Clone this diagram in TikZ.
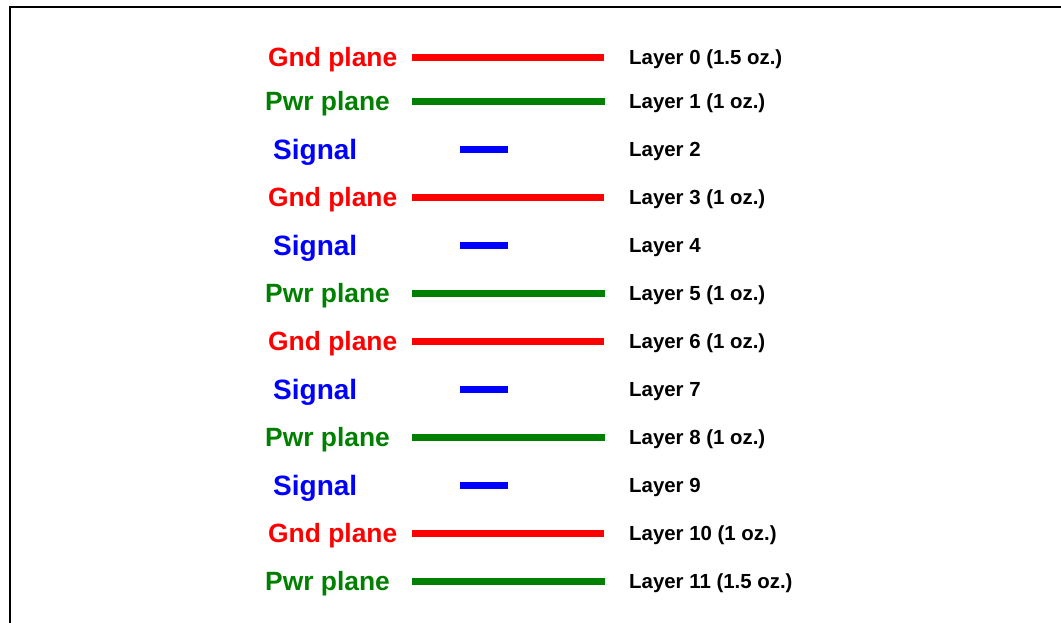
\documentclass[tikz,border=0pt]{standalone}
\usepackage{fontspec}
\setmainfont{Liberation Sans}
\begin{document}
\begin{tikzpicture}[x=1pt,y=-1pt,
  frame/.style={line width=2.4pt,black},
  gndtext/.style={text=red,font=\bfseries\fontsize{26.4}{30}\selectfont,anchor=base west,inner sep=0pt},
  pwrtext/.style={text=green!50!black,font=\bfseries\fontsize{26.4}{30}\selectfont,anchor=base west,inner sep=0pt},
  sigtext/.style={text=blue,font=\bfseries\fontsize{28}{32}\selectfont,anchor=base west,inner sep=0pt},
  layertext/.style={text=black,font=\bfseries\fontsize{20.4}{24}\selectfont,anchor=base west,inner sep=0pt},
  gndline/.style={line width=6.5pt,red},
  pwrline/.style={line width=6.5pt,green!50!black},
  sigline/.style={line width=6.5pt,blue}]
\useasboundingbox (0,0) rectangle (1061,623);
\clip (0,0) rectangle (1061,623);
% outer frame (left and top edges)
\draw[frame] (10,640) -- (10,7) -- (1070,7);

% layer 0
\node[gndtext] (t0) at (268,66.8) {Gnd plane};
\coordinate (a0) at (412,57.5); \coordinate (b0) at (604,57.5);
\draw[gndline] (a0) -- (b0);
\node[layertext] (l0) at (629,64.7) {Layer 0 (1.5 oz.)};
% layer 1
\node[pwrtext] (t1) at (265,110.8) {Pwr plane};
\coordinate (a1) at (412,101.5); \coordinate (b1) at (605,101.5);
\draw[pwrline] (a1) -- (b1);
\node[layertext] (l1) at (629,108.7) {Layer 1 (1 oz.)};
% layer 2
\node[sigtext] (t2) at (273,159.5) {Signal};
\coordinate (a2) at (460,149.5); \coordinate (b2) at (508,149.5);
\draw[sigline] (a2) -- (b2);
\node[layertext] (l2) at (629,156.7) {Layer 2};
% layer 3
\node[gndtext] (t3) at (268,206.8) {Gnd plane};
\coordinate (a3) at (412,197.5); \coordinate (b3) at (604,197.5);
\draw[gndline] (a3) -- (b3);
\node[layertext] (l3) at (629,204.7) {Layer 3 (1 oz.)};
% layer 4
\node[sigtext] (t4) at (273,255.5) {Signal};
\coordinate (a4) at (460,245.5); \coordinate (b4) at (508,245.5);
\draw[sigline] (a4) -- (b4);
\node[layertext] (l4) at (629,252.7) {Layer 4};
% layer 5
\node[pwrtext] (t5) at (265,302.8) {Pwr plane};
\coordinate (a5) at (412,293.5); \coordinate (b5) at (605,293.5);
\draw[pwrline] (a5) -- (b5);
\node[layertext] (l5) at (629,300.7) {Layer 5 (1 oz.)};
% layer 6
\node[gndtext] (t6) at (268,350.8) {Gnd plane};
\coordinate (a6) at (412,341.5); \coordinate (b6) at (604,341.5);
\draw[gndline] (a6) -- (b6);
\node[layertext] (l6) at (629,348.7) {Layer 6 (1 oz.)};
% layer 7
\node[sigtext] (t7) at (273,399.5) {Signal};
\coordinate (a7) at (460,389.5); \coordinate (b7) at (508,389.5);
\draw[sigline] (a7) -- (b7);
\node[layertext] (l7) at (629,396.7) {Layer 7};
% layer 8
\node[pwrtext] (t8) at (265,446.8) {Pwr plane};
\coordinate (a8) at (412,437.5); \coordinate (b8) at (605,437.5);
\draw[pwrline] (a8) -- (b8);
\node[layertext] (l8) at (629,444.7) {Layer 8 (1 oz.)};
% layer 9
\node[sigtext] (t9) at (273,495.5) {Signal};
\coordinate (a9) at (460,485.5); \coordinate (b9) at (508,485.5);
\draw[sigline] (a9) -- (b9);
\node[layertext] (l9) at (629,492.7) {Layer 9};
% layer 10
\node[gndtext] (t10) at (268,542.8) {Gnd plane};
\coordinate (a10) at (412,533.5); \coordinate (b10) at (604,533.5);
\draw[gndline] (a10) -- (b10);
\node[layertext] (l10) at (629,540.7) {Layer 10 (1 oz.)};
% layer 11
\node[pwrtext] (t11) at (265,590.8) {Pwr plane};
\coordinate (a11) at (412,581.5); \coordinate (b11) at (605,581.5);
\draw[pwrline] (a11) -- (b11);
\node[layertext] (l11) at (629,588.7) {Layer 11 (1.5 oz.)};
\end{tikzpicture}
\end{document}
